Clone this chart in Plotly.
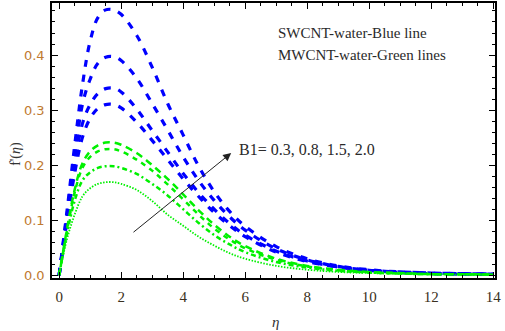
import plotly.graph_objects as go

eta = [0, 0.25, 0.5, 0.75, 1.0, 1.25, 1.5, 1.75, 2.0, 2.5, 3.0, 3.5, 4.0, 4.5, 5.0,
       5.5, 6.0, 7.0, 8.0, 9.0, 10, 11, 12, 13, 14]

# SWCNT-water (blue), B1 = 2.0, 1.5, 0.8, 0.3 (top to bottom)
blue_1 = [0, 0.115, 0.235, 0.345, 0.425, 0.468, 0.482, 0.482, 0.474, 0.436, 0.378, 0.312,
          0.255, 0.198, 0.152, 0.116, 0.089, 0.052, 0.030, 0.017, 0.010, 0.006, 0.004, 0.003, 0.002]
blue_2 = [0, 0.108, 0.215, 0.31, 0.356, 0.385, 0.396, 0.397, 0.39, 0.358, 0.312, 0.264,
          0.215, 0.172, 0.136, 0.106, 0.082, 0.048, 0.028, 0.016, 0.009, 0.006, 0.004, 0.003, 0.002]
blue_3 = [0, 0.102, 0.2, 0.275, 0.31, 0.33, 0.339, 0.34, 0.333, 0.302, 0.263, 0.224,
          0.185, 0.15, 0.12, 0.094, 0.073, 0.044, 0.026, 0.015, 0.009, 0.005, 0.003, 0.002, 0.002]
blue_4 = [0, 0.097, 0.185, 0.25, 0.285, 0.303, 0.31, 0.31, 0.304, 0.278, 0.245, 0.21,
          0.175, 0.143, 0.114, 0.09, 0.07, 0.042, 0.025, 0.015, 0.009, 0.005, 0.003, 0.002, 0.002]

# MWCNT-water (green)
green_1 = [0, 0.083, 0.155, 0.203, 0.225, 0.236, 0.241, 0.241, 0.237, 0.222, 0.2, 0.175,
           0.147, 0.118, 0.092, 0.07, 0.053, 0.03, 0.017, 0.01, 0.006, 0.004, 0.002, 0.002, 0.001]
green_2 = [0, 0.08, 0.15, 0.195, 0.215, 0.225, 0.229, 0.229, 0.225, 0.21, 0.19, 0.165,
           0.138, 0.11, 0.085, 0.065, 0.049, 0.028, 0.016, 0.009, 0.005, 0.003, 0.002, 0.002, 0.001]
green_3 = [0, 0.075, 0.135, 0.172, 0.187, 0.195, 0.198, 0.198, 0.195, 0.184, 0.166, 0.145,
           0.12, 0.095, 0.073, 0.056, 0.042, 0.024, 0.014, 0.008, 0.005, 0.003, 0.002, 0.002, 0.001]
green_4 = [0, 0.065, 0.11, 0.143, 0.158, 0.166, 0.169, 0.169, 0.166, 0.155, 0.135, 0.11,
           0.09, 0.07, 0.054, 0.04, 0.03, 0.017, 0.01, 0.006, 0.004, 0.003, 0.002, 0.001, 0.001]

x_ticks = [0, 2, 4, 6, 8, 10, 12, 14]
y_ticks = [0.0, 0.1, 0.2, 0.3, 0.4]
y_tick_labels = ["0.0", "0.1", "0.2", "0.3", "0.4"]

legend_lines = ["SWCNT-water-Blue line", "MWCNT-water-Green lines"]
arrow_label = "B1= 0.3, 0.8, 1.5, 2.0"

BLUE = "#0000ff"
GREEN = "#00f000"

fig = go.Figure()

for ys in [blue_4, blue_3, blue_2, blue_1]:
    fig.add_trace(go.Scatter(x=eta, y=ys, mode="lines",
                             line=dict(color=BLUE, width=3.2, dash="7px,8px",
                                       shape="spline", smoothing=1.0),
                             showlegend=False, hoverinfo="skip"))

green_styles = [
    (green_1, "7px,5px", 2.5),
    (green_2, "5px,5px", 2.5),
    (green_3, "5px,3px,2px,3px", 2.5),
    (green_4, "1.5px,1.5px", 1.8),
]
for ys, d, w in green_styles:
    fig.add_trace(go.Scatter(x=eta, y=ys, mode="lines",
                             line=dict(color=GREEN, width=w, dash=d,
                                       shape="spline", smoothing=1.0),
                             showlegend=False, hoverinfo="skip"))

axis_common = dict(showgrid=False, zeroline=False, showline=True, linecolor="black",
                   linewidth=1.5, mirror="allticks", ticks="inside", ticklen=6,
                   tickwidth=1.2, tickcolor="black", automargin=False)

fig.update_xaxes(range=[-0.23, 14.06], tickvals=x_ticks, ticktext=[str(v) for v in x_ticks],
                 ticklabelstandoff=4,
                 tickfont=dict(family="Liberation Serif", size=15, color="#3a3020"),
                 minor=dict(dtick=0.5, tick0=0, ticks="inside", ticklen=3,
                            tickcolor="black", tickwidth=1),
                 **axis_common)
fig.update_yaxes(range=[-0.005, 0.4945], tickvals=y_ticks, ticktext=y_tick_labels,
                 ticklabelstandoff=3,
                 tickfont=dict(family="DejaVu Sans", size=13, color="#c07a30"),
                 minor=dict(dtick=0.02, tick0=0, ticks="inside", ticklen=3,
                            tickcolor="black", tickwidth=1),
                 **axis_common)

# arrow
fig.add_annotation(x=5.55, y=0.222, ax=2.35, ay=0.076, xref="x", yref="y",
                   axref="x", ayref="y", showarrow=True, arrowhead=2, arrowsize=1.6,
                   arrowwidth=1, arrowcolor="#222222", text="")
fig.add_annotation(x=5.75, y=0.228, xref="x", yref="y", text=arrow_label,
                   showarrow=False, xanchor="left", yanchor="middle",
                   font=dict(family="Liberation Serif", size=16, color="#2a2a2a"))

fig.add_annotation(x=7.0, y=0.44, xref="x", yref="y", text=legend_lines[0],
                   showarrow=False, xanchor="left", yanchor="middle",
                   font=dict(family="Liberation Serif", size=15, color="#2a2a2a"))
fig.add_annotation(x=7.0, y=0.40, xref="x", yref="y", text=legend_lines[1],
                   showarrow=False, xanchor="left", yanchor="middle",
                   font=dict(family="Liberation Serif", size=15, color="#2a2a2a"))

# axis titles
fig.add_annotation(x=0.505, y=-0.16, xref="paper", yref="paper", text="<i>η</i>",
                   showarrow=False, xanchor="center", yanchor="middle",
                   font=dict(family="Liberation Serif", size=15, color="#333333"))
fig.add_annotation(x=-0.08, y=0.45, xref="paper", yref="paper", text="f'(<i>η</i>)",
                   showarrow=False, textangle=-90, xanchor="center", yanchor="middle",
                   font=dict(family="Liberation Serif", size=14, color="#333333"))

fig.update_layout(width=505, height=331, margin=dict(l=52, r=10, t=3, b=53),
                  plot_bgcolor="white", paper_bgcolor="white")

fig.write_html("out.html", config={"displayModeBar": False},
               post_script="document.body.style.margin='0';document.body.style.overflow='hidden';")
